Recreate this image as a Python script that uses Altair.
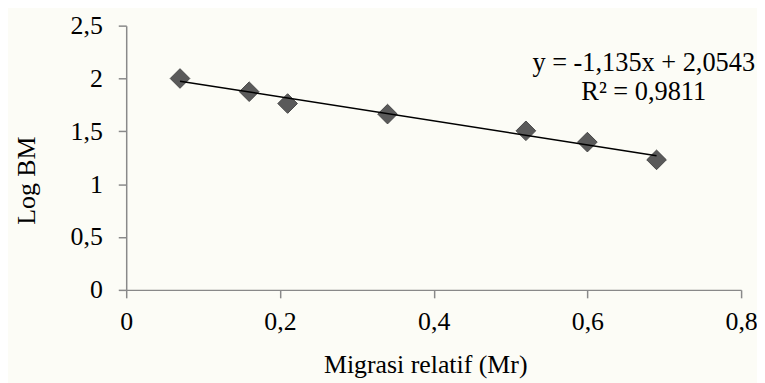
import altair as alt
import pandas as pd

# Data
mr = [0.07, 0.16, 0.21, 0.34, 0.52, 0.60, 0.69]
log_bm = [2.000, 1.875, 1.763, 1.663, 1.505, 1.398, 1.230]
x_ticks = [0, 0.2, 0.4, 0.6, 0.8]
y_ticks = [0, 0.5, 1, 1.5, 2, 2.5]
eq_lines = ["y = -1,135x + 2,0543", "R² = 0,9811"]

df = pd.DataFrame({"x": mr, "y": log_bm})

FONT = "Liberation Serif"
FS = 26
label_expr = "replace(format(datum.value, '~g'), '.', ',')"

xs = alt.Scale(domain=[0, 0.8], nice=False)
ys = alt.Scale(domain=[0, 2.5], nice=False)

x_enc = alt.X(
    "x:Q", scale=xs,
    axis=alt.Axis(
        values=x_ticks, labelExpr=label_expr, grid=False,
        labelFont=FONT, labelFontSize=FS, titleFont=FONT, titleFontSize=FS,
        title="Migrasi relatif (Mr)", titleX=301, titleY=83.5,
        titleBaseline="alphabetic", titleAlign="center",
        labelPadding=11, tickSize=8,
    ),
)
y_enc = alt.Y(
    "y:Q", scale=ys,
    axis=alt.Axis(
        values=y_ticks, labelExpr=label_expr, grid=False,
        labelFont=FONT, labelFontSize=FS, titleFont=FONT, titleFontSize=FS,
        title="Log BM", titleAngle=270, titleX=-100, titleY=155.5,
        titleBaseline="middle", titleAlign="center",
        labelPadding=16, tickSize=8,
    ),
)

base = alt.Chart(df)

trend = base.transform_regression("x", "y").mark_line(
    color="#000000", strokeWidth=1.6
).encode(x=x_enc, y=y_enc)

points = base.mark_point(
    shape="diamond", size=390, filled=True, fill="#5a5a5a",
    stroke="#474747", strokeWidth=1, opacity=1
).encode(x=x_enc, y=y_enc)

eq = alt.Chart(pd.DataFrame({"t": [0]})).mark_text(
    text=eq_lines, font=FONT, fontSize=26.5, color="#000000",
    align="center", baseline="alphabetic", lineHeight=29,
).encode(x=alt.value(521), y=alt.value(45.5))

chart = alt.layer(points, trend, eq).properties(
    width=619, height=266,
    autosize=alt.AutoSizeParams(type="none"),
    padding={"left": 119, "top": 16.5, "right": 16, "bottom": 95},
    background="#fcfcf6",
).configure(font=FONT).configure_view(stroke=None).configure_axis(
    labelFont=FONT, labelFontSize=FS, labelColor="#000000",
    titleFont=FONT, titleFontSize=FS, titleColor="#000000", titleFontWeight="normal",
    domainColor="#898989", domainWidth=1.5, tickColor="#898989", tickWidth=1.5,
    labelFlush=False, labelOverlap=False,
).configure_text(font=FONT)

chart.save("out.html", embed_options={"renderer": "svg", "actions": False})
